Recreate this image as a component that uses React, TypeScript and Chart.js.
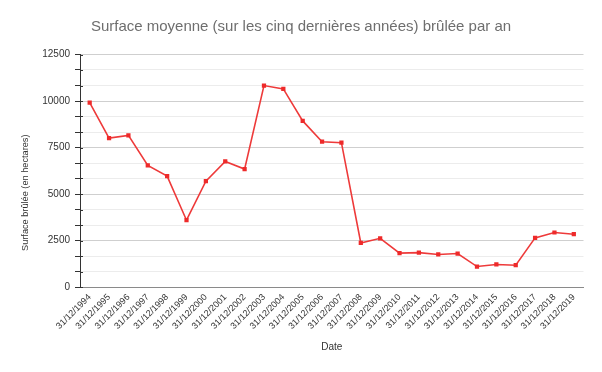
import React, { useEffect, useRef } from "react";
import { Chart, registerables } from "chart.js";

Chart.register(...registerables);

const categories = [
  "31/12/1994", "31/12/1995", "31/12/1996", "31/12/1997", "31/12/1998", "31/12/1999",
  "31/12/2000", "31/12/2001", "31/12/2002", "31/12/2003", "31/12/2004", "31/12/2005",
  "31/12/2006", "31/12/2007", "31/12/2008", "31/12/2009", "31/12/2010", "31/12/2011",
  "31/12/2012", "31/12/2013", "31/12/2014", "31/12/2015", "31/12/2016", "31/12/2017",
  "31/12/2018", "31/12/2019",
];

const surfaceValues = [
  9910, 8010, 8150, 6540, 5960, 3590,
  5690, 6750, 6340, 10830, 10650, 8930,
  7810, 7760, 2370, 2620, 1820, 1850,
  1750, 1800, 1100, 1210, 1170, 2640,
  2930, 2840,
];

const majorTickLabels = ["0", "2500", "5000", "7500", "10000", "12500"];
const minorPerMajor = 3;
const chartTitle = "Surface moyenne (sur les cinq dernières années) brûlée par an";
const yAxisTitle = "Surface brûlée (en hectares)";

const FONT = "'Liberation Sans', Arial, sans-serif";

export default function App() {
  const canvasRef = useRef<HTMLCanvasElement | null>(null);

  useEffect(() => {
    if (!canvasRef.current) return;
    const chart = new Chart(canvasRef.current, {
      type: "line",
      data: {
        labels: categories,
        datasets: [
          {
            label: "Surface brûlée",
            data: surfaceValues,
            borderColor: "#ee3a3a",
            backgroundColor: "#ee2a2a",
            borderWidth: 1.6,
            pointStyle: "rect",
            pointRadius: 3,
            pointBorderWidth: 0,
            tension: 0,
          },
        ],
      },
      options: {
        animation: false,
        responsive: false,
        devicePixelRatio: 1,
        layout: { padding: { left: 0, right: 18.5, top: 54.5, bottom: 0 } },
        plugins: {
          legend: { display: false },
          tooltip: { enabled: false },
          title: { display: false },
        },
        scales: {
          x: {
            type: "category",
            offset: true,
            grid: { display: false, drawTicks: false },
            border: { display: true, color: "#8a8a8a", width: 1 },
            ticks: {
              minRotation: 45,
              maxRotation: 45,
              autoSkip: false,
              color: "#333",
              padding: 5,
              font: { family: FONT, size: 9 },
            },
            title: {
              display: true,
              text: "Date",
              color: "#333",
              font: { family: FONT, size: 10 },
              padding: { top: 0, bottom: 19 },
            },
            afterFit: (scale: any) => {
              scale.height = 85;
            },
          },
          y: {
            min: 0,
            max: 12500,
            afterBuildTicks: (scale: any) => {
              const n = (majorTickLabels.length - 1) * minorPerMajor;
              const step = 12500 / n;
              const t = [];
              for (let i = 0; i <= n; i++) t.push({ value: i * step });
              scale.ticks = t;
            },
            grid: {
              color: (ctx: any) => (ctx.index % minorPerMajor === 0 ? "#cfcfcf" : "#ececec"),
              tickColor: "#333",
              tickLength: 5,
            },
            border: { display: true, color: "#333", width: 1 },
            ticks: {
              color: "#333",
              padding: 5,
              font: { family: FONT, size: 10 },
              callback: (_v: any, i: number) =>
                i % minorPerMajor === 0 ? majorTickLabels[i / minorPerMajor] : "",
            },
            title: { display: false },
            afterFit: (scale: any) => {
              scale.width = 80;
            },
          },
        },
      },
      plugins: [
        {
          id: "whiteBg",
          beforeDraw: (c: any) => {
            const ctx = c.ctx;
            ctx.save();
            ctx.fillStyle = "#fff";
            ctx.fillRect(0, 0, c.width, c.height);
            ctx.restore();
          },
        },
        {
          id: "titles",
          afterDraw: (c: any) => {
            const ctx = c.ctx;
            const area = c.chartArea;
            const x = c.scales.x;
            ctx.save();
            ctx.fillStyle = "#6e6e6e";
            ctx.font = `15px ${FONT}`;
            ctx.textAlign = "center";
            ctx.textBaseline = "middle";
            ctx.fillText(chartTitle, c.width / 2, 27);
            ctx.fillStyle = "#333";
            ctx.font = `9.2px ${FONT}`;
            const cy = (area.top + x.top + 44) / 2;
            ctx.translate(25, cy);
            ctx.rotate(-Math.PI / 2);
            ctx.fillText(yAxisTitle, 0, 0);
            ctx.restore();
          },
        },
        {
          id: "innerTicks",
          afterDatasetsDraw: (c: any) => {
            const y = c.scales.y;
            const ctx = c.ctx;
            ctx.save();
            ctx.strokeStyle = "#333";
            ctx.lineWidth = 1;
            y.ticks.forEach((t: any) => {
              const py = Math.round(y.getPixelForValue(t.value)) + 0.5;
              ctx.beginPath();
              ctx.moveTo(y.right, py);
              ctx.lineTo(y.right + 3, py);
              ctx.stroke();
            });
            ctx.restore();
          },
        },
      ],
    });
    return () => chart.destroy();
  }, []);

  return (
    <div style={{ position: "absolute", left: 0, top: 0, width: 602, height: 372, background: "#fff" }}>
      <canvas ref={canvasRef} width={602} height={372} />
    </div>
  );
}
